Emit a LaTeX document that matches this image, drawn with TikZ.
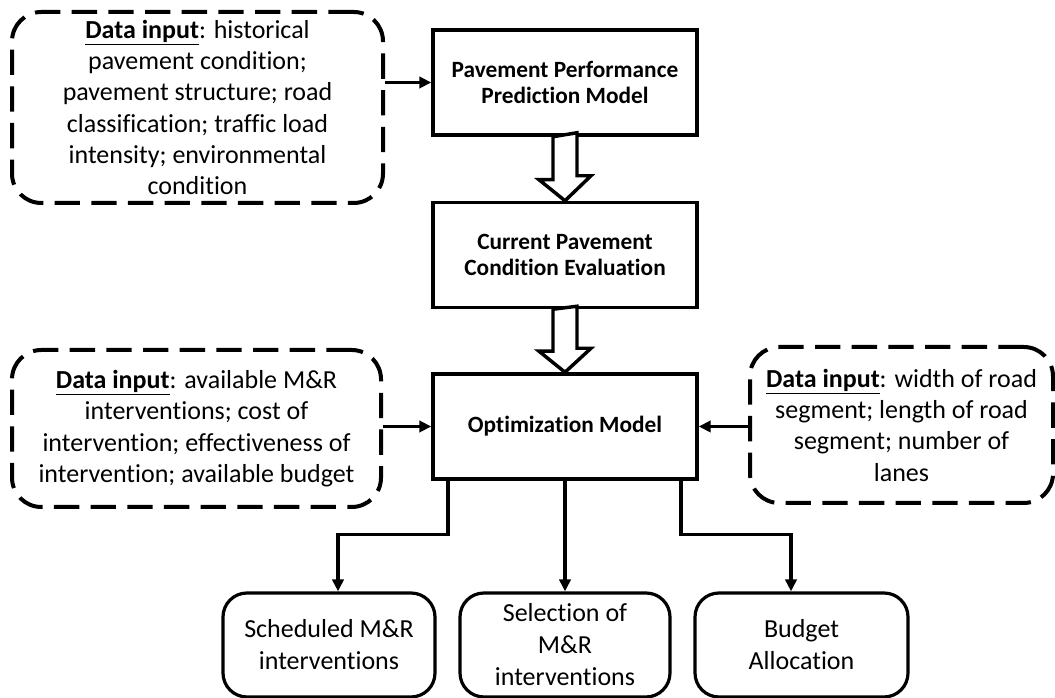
\documentclass[tikz,border=0pt]{standalone}
\usepackage{fontspec}
\setmainfont[Ligatures=NoCommon]{Carlito}
\usetikzlibrary{arrows.meta,calc}

\begin{document}
\begin{tikzpicture}
		[x=0.75pt,y=0.75pt,
		model/.style={draw,line width=2.6pt,minimum width=198pt,minimum height=78.75pt,
			align=center,inner sep=0pt,font=\fontsize{17.5}{20}\selectfont\bfseries},
		datain/.style={draw,dash pattern=on 19pt off 8.5pt,line width=3pt,
			rounded corners=22pt,align=center,inner sep=0pt,font=\fontsize{19.5}{23.5}\selectfont},
		result/.style={draw,line width=2.4pt,rounded corners=18pt,minimum height=78pt,
			align=center,inner sep=0pt,font=\fontsize{19.5}{24}\selectfont},
		flow/.style={line width=2.4pt,-{Triangle[length=9pt,width=8.5pt]}},
		hollow/.style={draw,fill=white,line width=2.6pt}
		]
		\useasboundingbox (0,0) rectangle (1055,698);

		% models
		\node[model] (ppm) at (565,615.5) {Pavement Performance\\Prediction Model};
		\node[model] (cpe) at (565,443) {Current Pavement\\Condition Evaluation};
		\node[model] (opt) at (565,271.5) {Optimization Model};

		% data inputs
		\node[datain,minimum width=278.25pt,minimum height=143.25pt] (hist) at (197.5,590.5)
			{\underline{\textbf{Data input}}: historical\\pavement condition;\\pavement structure; road\\
			classification; traffic load\\intensity; environmental\\condition};
		\node[datain,minimum width=276.75pt,minimum height=117.75pt] (cost) at (196.5,269.5)
			{\underline{\textbf{Data input}}: available M\&R\\interventions; cost of\\
			intervention; effectiveness of\\intervention; available budget};
		\node[datain,minimum width=227.25pt,minimum height=117pt] (road) at (901.5,273)
			{\underline{\textbf{Data input}}: width of road\\segment; length of road\\
			segment; number of\\lanes};

		% results
		\node[result,minimum width=159pt] (sched) at (329,53) {Scheduled M\&R\\interventions};
		\node[result,minimum width=157.5pt] (select) at (565,53) {Selection of\\M\&R\\interventions};
		\node[result,minimum width=159.75pt] (budget) at (801.5,53) {Budget\\Allocation};

		\draw[flow] (hist.east |- ppm) -- (ppm.west);
		\draw[flow] (cost.east |- opt) -- (opt.west);
		\draw[flow] (road.west |- opt) -- (opt.east);

		\draw[hollow] (ppm.south) ++(-12,0) -- ++(0,-43) -- ++(-14,0) -- (cpe.north)
			-- ++(26,25) -- ++(-14,0) -- ++(0,43) -- cycle;
		\draw[hollow] (cpe.south) ++(-12,0) -- ++(0,-42) -- ++(-14,0) -- (opt.north)
			-- ++(26,24) -- ++(-14,0) -- ++(0,42) -- cycle;

		\draw[flow] ($(opt.south)+(-117,0)$) -- ++(0,-54) -| ($(sched.north)+(9,0)$);
		\draw[flow] (opt.south) -- (select.north);
		\draw[flow] ($(opt.south)+(116,0)$) -- ++(0,-54) -| ($(budget.north)+(-10.5,0)$);
	\end{tikzpicture}
\end{document}
